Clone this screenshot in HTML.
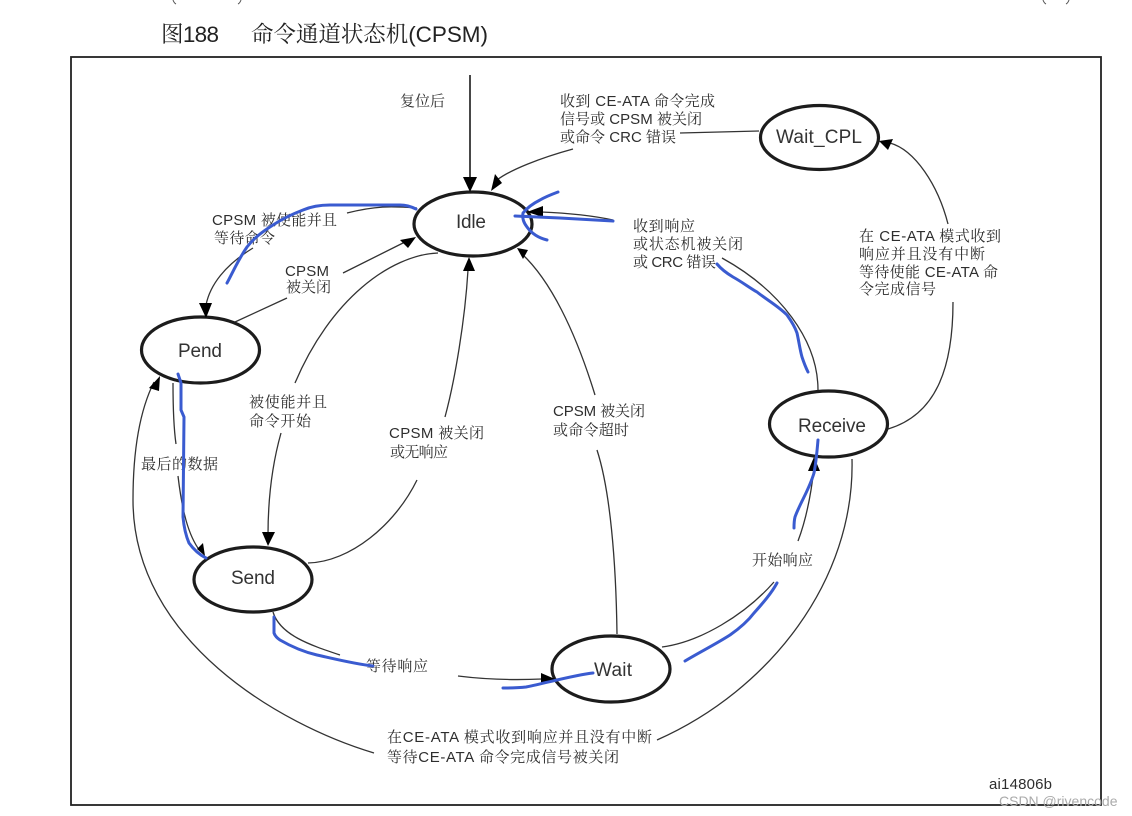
<!DOCTYPE html>
<html><head><meta charset="utf-8"><style>
html,body{margin:0;padding:0;background:#fff}
svg{display:block;filter:blur(.3px)}
text{font-family:"Liberation Sans","Noto Serif CJK SC",serif;fill:#2e2e2e;font-size:15px}
.n{font-size:19px;fill:#333}
.s{font-size:14px}
.l{fill:none;stroke:#333;stroke-width:1.3}
.e{fill:#fff;stroke:#1c1c1c;stroke-width:3.2}
.b{fill:none;stroke:#3a5bd0;stroke-width:3;stroke-linecap:round;stroke-linejoin:round}
</style></head><body>
<svg width="1132" height="816" viewBox="0 0 1132 816" xmlns="http://www.w3.org/2000/svg">
<rect width="1132" height="816" fill="#fff"/>
<path d="M173,0 q1,3 3,4 M238,4 q2,-1 3,-4 M1043,0 q1,3 3,4 M1066,4 q2,-1 3,-4" fill="none" stroke="#555" stroke-width="1"/>
<text x="161" y="42" style="font-size:22.5px;fill:#222" textLength="58" lengthAdjust="spacing">图188</text>
<text x="251" y="42" style="font-size:22.5px;fill:#222" textLength="237" lengthAdjust="spacing">命令通道状态机(CPSM)</text>
<rect x="71" y="57" width="1030" height="748" fill="none" stroke="#222" stroke-width="1.8"/>

<g class="l">
<path class="l" d="M470,75 L470,180" style="stroke-width:1.8"/>
<path class="l" d="M759,131 L680,133"/>
<path class="l" d="M573,149 C540,158 510,170 497,180"/>
<path class="l" d="M417,208 C390,206 375,206 347,213"/>
<path class="l" d="M253,248 C225,265 210,285 206,305"/>
<path class="l" d="M235,322 L287,298"/>
<path class="l" d="M343,273 L405,242"/>
<path class="l" d="M438,253 C390,255 330,300 295,383"/>
<path class="l" d="M281,433 C272,465 268,500 268,535"/>
<path class="l" d="M308,563 C350,562 395,525 417,480"/>
<path class="l" d="M445,417 C455,380 465,320 468,270"/>
<path class="l" d="M617,634 C616,560 610,490 597,450"/>
<path class="l" d="M595,395 C575,330 550,280 522,254"/>
<path class="l" d="M818,390 C818,340 780,290 722,258"/>
<path class="l" d="M613,220 C590,215 565,213 541,212"/>
<path class="l" d="M888,429 C935,415 953,370 953,302"/>
<path class="l" d="M948,224 C938,185 915,150 890,143"/>
<path class="l" d="M662,647 C700,642 745,615 774,582"/>
<path class="l" d="M798,541 C806,520 811,495 814,468"/>
<path class="l" d="M273,612 C280,635 310,645 340,655"/>
<path class="l" d="M458,676 C490,680 520,680 542,679"/>
<path class="l" d="M852,459 C855,580 770,690 657,740"/>
<path class="l" d="M374,753 C280,725 133,640 133,500 C133,450 140,410 154,382"/>
<path class="l" d="M173,383 C173,415 174,430 176,444"/>
<path class="l" d="M178,476 C182,510 188,535 200,551"/>
</g>

<ellipse class="e" cx="473" cy="224" rx="59" ry="32"/>
<ellipse class="e" cx="819.5" cy="137.5" rx="59" ry="32"/>
<ellipse class="e" cx="828.5" cy="424" rx="59" ry="33"/>
<ellipse class="e" cx="200.5" cy="350" rx="59" ry="33"/>
<ellipse class="e" cx="253" cy="579.5" rx="59" ry="32.5"/>
<ellipse class="e" cx="611" cy="669" rx="59" ry="33"/>

<g fill="#000">
<polygon points="470,192 463,177 477,177"/>
<polygon points="491,191 502,183 495,174"/>
<polygon points="527,212 543,206 543,217"/>
<polygon points="206,318 199,303 212,303"/>
<polygon points="416,237 400,240 408,248"/>
<polygon points="469,257 463,271 475,271"/>
<polygon points="517,248 523,259 528,250"/>
<polygon points="268,546 262,532 275,532"/>
<polygon points="205,556 197,549 203,543"/>
<polygon points="160,376 149,388 159,391"/>
<polygon points="879,141 893,139 888,150"/>
<polygon points="814,457 808,471 820,471"/>
<polygon points="555,679 541,673 541,685"/>
</g>

<text class="n" x="456" y="228" textLength="30" lengthAdjust="spacing">Idle</text>
<text class="n" x="776" y="143" textLength="86" lengthAdjust="spacing">Wait_CPL</text>
<text class="n" x="798" y="432" textLength="68" lengthAdjust="spacing">Receive</text>
<text class="n" x="178" y="357" textLength="44" lengthAdjust="spacing">Pend</text>
<text class="n" x="231" y="584" textLength="44" lengthAdjust="spacing">Send</text>
<text class="n" x="594" y="676" textLength="38" lengthAdjust="spacing">Wait</text>

<text x="400" y="106" textLength="45">复位后</text>
<text x="560" y="106" textLength="155">收到 CE-ATA 命令完成</text>
<text x="560" y="124" textLength="142">信号或 CPSM 被关闭</text>
<text x="560" y="142" textLength="116">或命令 CRC 错误</text>
<text x="212" y="225" textLength="125">CPSM 被使能并且</text>
<text x="214" y="243" textLength="61">等待命令</text>
<text x="285" y="276" textLength="44">CPSM</text>
<text x="286" y="292" textLength="45">被关闭</text>
<text x="249" y="407" textLength="78">被使能并且</text>
<text x="249" y="426" textLength="62">命令开始</text>
<text x="389" y="438" textLength="95">CPSM 被关闭</text>
<text x="390" y="457" textLength="58">或无响应</text>
<text x="141" y="469" textLength="77">最后的数据</text>
<text x="366" y="671" textLength="62">等待响应</text>
<text x="553" y="416" textLength="92">CPSM 被关闭</text>
<text x="553" y="435" textLength="76">或命令超时</text>
<text x="633" y="231" textLength="62">收到响应</text>
<text x="633" y="249" textLength="110">或状态机被关闭</text>
<text x="633" y="267" textLength="83">或 CRC 错误</text>
<text x="859" y="241" textLength="142">在 CE-ATA 模式收到</text>
<text x="859" y="259" textLength="126">响应并且没有中断</text>
<text x="859" y="277" textLength="139">等待使能 CE-ATA 命</text>
<text x="859" y="294" textLength="77">令完成信号</text>
<text x="752" y="565" textLength="61">开始响应</text>
<text x="387" y="742" textLength="265">在CE-ATA 模式收到响应并且没有中断</text>
<text x="387" y="762" textLength="232">等待CE-ATA 命令完成信号被关闭</text>
<text x="989" y="789" textLength="63">ai14806b</text>
<text class="s" x="999" y="806" style="fill:#aaa">CSDN @rivencode</text>

<path class="b" d="M416,209 C410,206 405,205 400,205 L330,205 C318,205 310,207 303,210 C290,215 282,219 273,225 C262,232 254,238 247,247 C238,260 233,272 227,283"/>
<path class="b" d="M558,192 C550,195 545,197 540,200 C532,204 527,208 523,213 C522,219 524,223 527,227 C532,234 539,238 547,240"/>
<path class="b" d="M515,216 L560,218 L613,221"/>
<path class="b" d="M717,264 C722,270 728,274 733,277 C742,282 750,288 757,292 C767,300 778,306 787,315 C792,322 795,327 797,333 C799,342 800,350 802,357 C804,363 806,368 808,372"/>
<path class="b" d="M178,374 L181,383 L181,410 L184,417 L183,517 C184,528 186,536 189,543 C194,550 200,555 206,558"/>
<path class="b" d="M274,617 L274,633 C275,636 277,638 280,640 C292,647 304,652 317,655 C335,659 355,664 373,666"/>
<path class="b" d="M503,688 C510,688 518,688 526,687 C550,682 575,675 593,673"/>
<path class="b" d="M685,661 C700,652 716,644 730,635 C740,628 748,621 754,613 C762,604 771,594 777,583"/>
<path class="b" d="M818,440 C817,452 816,463 814,473 C809,490 800,503 795,517 C794,521 794,525 794,528"/>
</svg>
</body></html>
